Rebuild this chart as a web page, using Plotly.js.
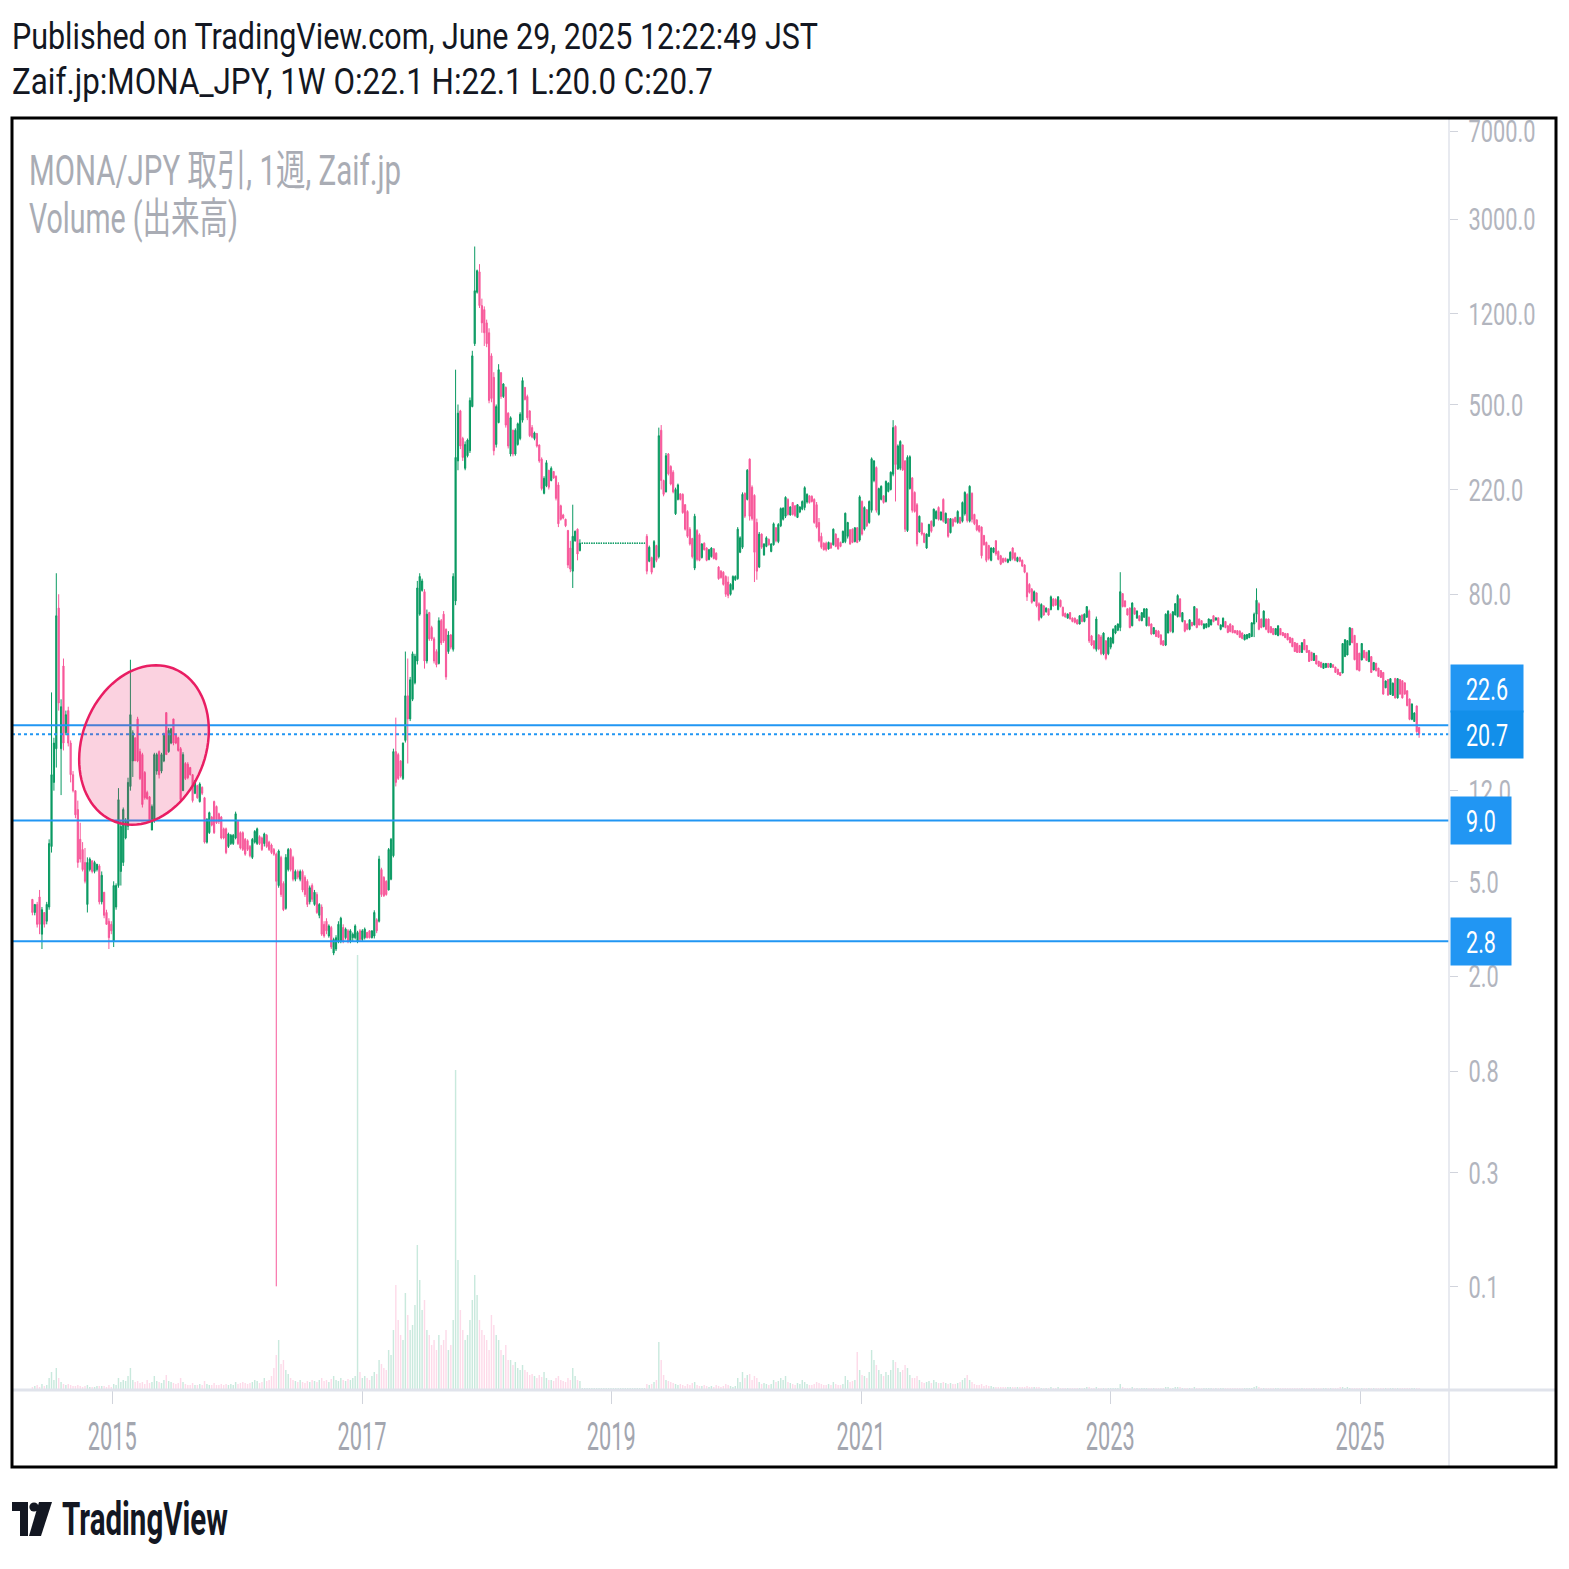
<!DOCTYPE html>
<html><head><meta charset="utf-8">
<script src="https://cdn.plot.ly/plotly-3.0.1.min.js"></script>
<style>
html,body{margin:0;padding:0;background:#fff;width:1569px;height:1569px;overflow:hidden;}
#chart{position:absolute;left:0;top:0;width:1569px;height:1569px;}
.sq{position:absolute;white-space:nowrap;transform-origin:0 0;line-height:1;font-family:Roboto,"Noto Sans CJK JP","Noto Sans",sans-serif;z-index:5;}
#logo{position:absolute;left:12px;top:1502px;z-index:5;}
</style></head><body>
<div id="chart"></div>
<div class="sq" data-w="806" style="left:12px;top:18px;font-size:37.5px;color:#131722;">Published on TradingView.com, June 29, 2025 12:22:49 JST</div>
<div class="sq" data-w="701" style="left:12px;top:63px;font-size:37.5px;color:#131722;">Zaif.jp:MONA_JPY, 1W O:22.1 H:22.1 L:20.0 C:20.7</div>
<div class="sq" data-w="372" style="left:29px;top:150px;font-size:42px;color:#a9acb4;">MONA/JPY 取引, 1週, Zaif.jp</div>
<div class="sq" data-w="209" style="left:29px;top:198px;font-size:42px;color:#a9acb4;">Volume (出来高)</div>
<svg id="logo" width="40" height="34" viewBox="0 0 40 34"><path d="M0 0H16V34H8V9H0Z" fill="#131722"/><circle cx="22" cy="5" r="4.6" fill="#131722"/><path d="M27 0H40L29 34H17Z" fill="#131722"/></svg>
<div class="sq" data-w="166" style="left:62px;top:1496px;font-size:46px;font-weight:700;color:#131722;">TradingView</div>
<script>
// ---- weekly OHLC (JPY), first week 2014-05-12, last week 2025-06-23 ----
const open = [
4.2,3.7,4.0,4.3,3.0,3.7,3.4,3.9,7.0,13,
18,70,18,40,21,26,19,14,12,10,
7.5,6.8,6,4.0,5.6,6.1,5.5,5.6,5.8,4.1,
4.5,3.7,3.4,3.3,2.8,3.9,4.8,5.5,6,7.6,
8.5,12.5,16,20,24,17.5,17,14.3,11.8,11.3,
8.2,9,14.5,17.5,14.5,16,25.5,17.5,19,24,
20.5,20,18,12,15.6,15.5,15,14,11.7,12.6,
10.8,12.4,11.2,7.3,8,9.3,10.8,10.3,9.6,9.3,
8.3,8.3,7.0,7.2,7.2,7.6,8.9,8.0,8.0,7.5,
7.4,7.0,6.3,7.3,7.2,7.7,7.6,7.2,7.8,7.3,
7.1,6.8,6.5,4.8,6.3,4.9,3.85,5.6,6.8,6.3,
5.1,5.5,5.1,5.5,5.2,5.0,4.1,4.8,4.0,4.4,
3.6,3.9,3.3,3.4,2.95,3.2,2.5,2.6,2.8,2.8,
3.2,2.9,3.1,2.8,2.9,2.9,2.8,3.1,2.85,2.9,
3.05,3.1,2.9,2.95,3.45,3.4,5.6,5.2,5.0,4.6,
5.1,6.4,17.5,17,16,13.5,19.5,30,24,29,
34,42,66,83,82,42,67,58,52,46,
41,62,66,57,46,54,47,75,290,470,
360,270,305,320,490,900,1480,1800,1300,1250,
1100,1000,800,650,340,420,680,540,590,460,
310,390,310,340,360,430,590,540,470,400,
360,378,338,295,212,228,265,240,262,250,
230,188,172,165,148,125,100,134,150,122,
131,131,131,131,131,131,131,131,131,131,
131,131,131,131,131,131,131,131,131,131,
131,131,131,131,131,131,131,
140,110,114,
104,128,115,390,240,215,310,275,260,174,
200,211,210,190,178,150,137,103,148,142,
114,131,125,112,115,124,119,104,100,99,
95,90,80,84,92,93,120,126,212,200,
295,225,208,160,104,143,117,127,136,121,
129,152,133,155,165,170,200,172,194,188,
168,177,182,185,195,207,206,200,190,160,
140,131,131,124,131,129,143,137,132,132,
133,140,149,150,133,152,135,196,150,181,
160,180,240,272,173,200,207,196,216,220,
255,405,268,270,338,290,148,222,246,214,
190,146,159,144,125,140,162,155,166,185,
164,200,159,166,145,165,168,160,168,162,
174,210,162,212,173,164,155,153,141,132,
128,111,120,134,121,116,113,113,109,111,
125,119,110,114,111,106,98,88,84,75,
81,73,64,71.5,67.5,69.5,69,76.5,76,69,
75.5,70.5,66.5,63.5,67,63.5,63.5,62.5,60,65.5,
61.5,64,68,53.5,51,47,54,53,45,51,
45,48,50,55,56.5,58,80.5,75,69.5,70,
59,70,63.5,65,62,64,59,64,60,54.5,
56.5,56,54,51,49,55,66,55.5,65.5,64.5,
76.5,61.5,62,60,57,61,59.5,69.5,63,62,
57.5,58,58.5,59.5,65,62.3,63.7,57,58.5,61.5,
59,60,59,56.4,56.3,56,55,51.5,52,52.6,
53.2,60,66,73,63,58.5,63,63,58.5,57.5,
54.2,53.6,57.5,55.3,54.8,54.7,52.8,52.3,50.2,49.8,
48.8,45.6,51.7,48.8,46.5,45.7,42.2,44.3,41.9,41.5,
39.1,39.4,41,39.5,40.5,39.6,38.8,37.6,37.4,43.8,
44.5,49,57.5,53.8,49.8,45.3,42.4,46.5,45.7,41.7,
43.8,38.5,41.1,39.2,38.3,37.6,32.4,35.1,30.4,30.1,
35.5,29.4,35.1,34.7,34,31.5,29.1,23.9,23.4,27.2,22.1];
const high = [
4.2,4.0,4.1,4.6,3.9,3.7,4.1,7.5,31,20,
98,80,29,43,26,27,19.5,14.5,12,10.9,
8.8,7.3,6.9,6.3,6.3,6.1,6.1,5.9,5.9,5.5,
4.5,3.8,3.5,3.4,5.0,4.9,12.3,9,10.2,9.2,
13.6,42.5,21.5,20,24.5,18,17.3,14.5,12,11.4,
10.5,17.3,17.3,17.7,17.3,21,25.6,22,22,24,
20.8,20.2,18.3,17.4,15.8,15.8,15.1,14.1,13.3,12.7,
13,12.5,11.3,9.2,9.8,9.4,10.9,10.4,9.7,9.4,
8.4,8.4,8.0,7.9,7.9,9.8,9.0,8.1,8.1,7.6,
7.5,7.1,7.6,8.2,8.4,7.8,7.7,8.0,7.9,7.4,
7.2,6.9,6.6,6.8,6.4,5.0,6.5,6.9,6.9,6.4,
5.6,5.6,5.6,5.6,5.3,5.1,4.8,4.9,4.6,4.5,
4.05,4.0,3.4,3.5,3.3,3.25,2.9,2.97,3.4,3.55,
3.3,3.2,3.15,3.15,3.05,3.3,3.1,3.15,3.15,3.2,
3.07,3.11,3.11,3.78,3.5,6.4,5.7,5.25,5.05,6.9,
7.6,18,24.3,17.3,16.1,19.1,46,43,36,46,
45,91,98,93,84,69,67.5,59,53,47,
64,63,68,57.5,56,54.5,98,700,500,475,
366,350,360,535,840,2300,1840,1940,1390,1290,
1135,1044,820,683,500,738,683,614,595,464,
446,392,397,420,464,650,590,550,473,410,
385,380,340,300,250,292,266,275,263,252,
236,190,174,166,149,134,190,148,151,136,
131,131,131,131,131,131,131,131,131,131,
131,131,131,131,131,131,131,131,131,131,
131,131,131,131,131,131,131,
143,128,115,
135,129,400,410,242,313,313,278,265,224,
233,212,212,191,180,153,138,174,150,144,
131,132,126,124,126,125,120,105,101,100,
96,95,89,96,96,153,140,214,214,268,
297,229,210,166,146,144,131,140,137,131,
160,153,159,185,185,206,202,187,195,189,
191,187,198,227,212,208,208,202,195,167,
145,132,133,133,132,151,144,138,133,148,
176,161,150,151,153,153,208,198,187,182,
198,300,292,275,224,229,208,240,236,262,
430,409,340,354,340,292,306,306,248,216,
193,171,160,145,144,158,163,183,180,187,
178,202,176,167,167,167,169,180,169,196,
216,212,229,214,174,165,156,154,142,133,
129,126,126,135,122,117,114,114,113,121,
126,120,115,115,112,107,99,89,85,83,
81.5,74,73.3,72,70.5,69.8,79,77,77,78.5,
76,71,67,66.5,67.2,64,63.9,62.7,65.2,65.8,
66.5,71.2,69,54,51.3,64.5,54.4,54,55.4,51.3,
53,53,57.6,59.2,60.4,99,80.7,75.5,69.8,70.5,
74,70.5,68.5,65.2,67.2,69.8,69.8,64.5,60.4,58.1,
56.6,56.5,54.4,51.3,66.5,68.5,66.5,68,73.3,80,
77,67.2,62.2,60.4,62.7,61.2,71.2,69.8,63.3,62.2,
60.4,60.4,63.3,62.7,65.2,63.9,63.9,59.8,63.9,61.6,
59.2,60.4,59.2,56.5,56.5,56.5,55.4,54.4,54.4,54.9,
61,67,84.7,74,63.3,68.5,63.3,63.3,58.7,57.6,
57.6,59.2,57.6,55.4,54.9,54.9,52.9,52.4,50.3,49.9,
48.9,50.3,51.8,48.9,46.6,45.8,45.4,44.4,42,41.6,
41.2,41.2,41.2,41.2,40.6,39.7,38.9,37.7,49.9,51.8,
51.3,58.1,57.6,53.9,49.9,45.4,49.9,46.6,45.8,46.6,
43.9,41.6,41.2,39.3,38.4,37.7,34.8,35.2,35.6,34.1,
35.6,35.6,35.2,34.8,34.1,31.6,29.2,27.9,25.6,27.3,22.1];
const low = [
3.6,3.6,3.2,3.0,2.6,3.2,3.3,3.8,6.6,12,
15,26,11.5,17.7,20.5,18.4,13,11.8,9.2,5.7,
6.0,5.5,4.9,3.7,5.5,5.4,5.4,5.5,4.0,4.0,
3.5,3.3,2.6,3.0,2.65,3.8,4.7,4.8,5.8,7.5,
8.2,12,13.7,16,15.8,13.3,10.2,11,11,8.8,
8.2,8.8,14,13.5,14.2,15.8,17,17.3,18.8,18.6,
18.8,17.5,10.9,12,13.3,13.4,13.9,10.7,11.6,11.1,
10.7,11.5,7.2,7.2,7.9,8.5,7.9,8.7,8.7,7.5,
7.5,6.5,6.9,7.1,7.1,7.5,7.1,6.8,6.7,6.4,
6.7,6.3,6.2,7.2,7.1,7.1,6.7,7.0,6.9,6.7,
6.5,6.4,0.1,4.7,4.3,3.75,3.8,5.5,5.5,5.0,
5.0,5.1,5.0,4.5,4.3,3.9,4.0,4.1,3.95,3.65,
3.5,2.95,2.9,3.0,2.9,2.6,2.45,2.55,2.75,2.75,
2.75,2.85,2.75,2.75,2.8,2.85,2.75,2.8,2.8,2.85,
2.88,2.88,2.88,2.88,3.03,3.36,4.3,4.3,4.35,4.58,
5.05,6.3,12.5,13.3,13.6,13.3,19.1,15.6,23.5,28.5,
33.5,40.6,65,82,39,41,51,51,41,39.5,
40.6,49,50,35,45,47,46,72,265,325,
290,265,300,313,487,880,1460,1270,1000,880,
870,506,511,306,330,417,528,533,400,327,
303,303,305,336,354,420,520,430,365,361,
354,330,285,218,210,225,220,238,244,198,
153,163,165,153,103,99,85,133,111,121,
131,131,131,131,131,131,131,131,131,131,
131,131,131,131,131,131,131,131,131,131,
131,131,131,131,131,131,131,
97,109,97,
103,109,113,220,206,214,252,229,212,172,
198,198,174,148,138,128,113,101,110,110,
113,122,110,111,114,112,111,92,93,87,
78,77,79,83,91,92,119,124,167,198,
163,163,90,92,103,124,116,126,128,120,
128,132,131,153,163,167,171,171,171,169,
167,175,180,180,192,192,194,158,151,132,
124,122,121,123,124,128,126,123,126,131,
131,137,129,131,132,131,133,141,148,153,
158,176,236,176,171,198,192,194,214,218,
250,196,266,265,263,146,146,220,176,176,
127,145,141,131,124,139,145,153,165,163,
163,160,158,138,144,153,160,158,158,160,
171,160,160,160,156,147,145,113,128,109,
111,110,119,116,111,106,108,109,108,110,
111,110,109,109,104,98,75,80.5,73,74.5,
70.5,61.6,63.3,65,67,65,68.5,71,71.5,68.5,
70.5,64.5,63.9,63.3,62.7,61,60.4,59.8,59.8,61,
61,63.9,50,48.5,47,46,46.6,44.4,44.4,42.3,
44.4,47,49.4,54.4,56,56,70.5,70.5,65.2,57.6,
58.7,65.8,63.3,61.6,61.6,63.9,58.7,58.7,53.9,54.4,
52.9,52.4,48.9,48.5,48.5,54.9,55.4,54.9,65.2,63.9,
63.9,61,55.4,56.5,56.5,58.7,59.2,57.6,59.2,59.2,
57,57.6,58.1,59.2,61,62.2,59.2,56.5,58.1,57.6,
54.9,55.4,54.9,54.9,53.9,52.4,51.8,51.3,51.8,52.4,
52.9,52.9,61,56.5,57.6,58.1,56.5,54.9,54.9,53.9,
53.9,53.4,53.9,53.4,52.4,51.3,49.9,48,45.8,45.4,
45.4,45.4,46.6,45.4,41.6,42,42,40.6,39.7,39.3,
38.9,39.3,39.3,39.3,39.3,37.4,36.7,36.3,37.3,43.7,
44.4,48.9,49.9,42.3,38.4,38,42.3,43.1,42,41.6,
37.4,38.4,38,36,35.6,30.3,32.3,30,30.3,30,
29.2,29.2,30.3,29.2,30.3,27.1,23.7,23.7,23.3,21,20.0];
const close = [
3.7,4.0,3.3,3.3,3.8,3.3,4.0,7.2,14,19,
65,28,27,19,25,19,14,12,9.5,6,
6.2,5.6,5,6.0,6.2,5.5,6.0,5.9,4.1,5.3,
3.6,3.3,2.9,3.1,4.8,4.8,11,8.5,10,9,
13,25,21,16,16,13.5,10.5,11.2,11.1,8.9,
10.3,17,17,14,17,20.5,17,21.5,21.8,19,
19,17.7,11,17,13.5,13.6,14,10.9,13.2,11.2,
12.8,11.7,7.3,9.1,9.7,8.6,8.0,8.8,8.9,7.6,
7.6,6.6,7.9,7.8,7.8,9.6,7.2,6.9,6.8,6.5,
6.8,6.4,7.5,8.1,8.3,7.2,6.8,7.9,7.0,6.8,
6.6,6.5,5.0,6.7,4.4,3.8,6.3,6.8,5.6,5.1,
5.5,5.2,5.5,4.6,4.4,4.0,4.7,4.2,4.5,3.7,
4.0,3.0,2.95,3.1,3.25,2.65,2.85,2.9,3.3,3.5,
2.8,3.15,2.8,3.1,3.0,3.25,3.05,2.85,3.1,3.15,
2.9,2.9,3.1,3.7,3.1,6.2,4.4,4.35,4.4,6.8,
7.5,17.5,13,13.5,13.8,19,30,24,35,45,
44,85,95,91,42,66,52,52,42,40.5,
62,50,51,36,54,48,95,300,460,335,
300,340,355,520,800,1500,1820,1300,1100,1000,
900,520,530,320,490,700,540,610,410,335,
440,310,390,415,455,630,525,440,370,365,
380,335,290,222,245,285,225,270,246,202,
158,165,167,155,106,102,140,147,118,131,
131,131,131,131,131,131,131,131,131,131,
131,131,131,131,131,131,131,131,131,131,
131,131,131,131,131,131,131,
100,126,99,
133,111,370,240,210,305,256,232,215,220,
230,200,176,150,140,130,115,170,112,111,
130,123,111,123,125,113,112,93,94,88,
80,79,88,95,95,150,138,210,170,265,
170,166,120,100,143,126,130,138,129,130,
158,134,157,183,184,204,173,186,173,171,
190,186,196,224,210,194,196,160,153,134,
126,123,123,132,125,150,127,124,127,147,
175,160,130,132,152,132,205,143,185,155,
196,296,290,180,222,227,194,238,234,260,
400,280,335,350,266,150,300,302,180,178,
130,170,143,132,143,157,147,182,178,165,
177,162,175,140,166,155,161,178,159,194,
214,163,227,165,158,149,147,116,129,111,
113,125,125,118,112,107,109,110,112,120,
113,111,114,110,105,99,78,81.5,74,82,
71.5,62.5,72.5,65.5,70,65.5,78,71.5,72,78,
71,65,64.2,66,63,61.5,61,60,65,61.5,
66,71,51,49,47.5,63,47.2,45,55,43,
52.5,52.5,57,59,60,82,71,71,65.5,58,
73.5,66,68,62,67,69.5,69.5,59,54.5,58,
53.2,52.8,49.3,48.8,66,68,56,67.5,73,79,
64.5,67,56,57,62.5,59,71,58,59.5,59.5,
60,60.2,63,62.5,61.5,63.7,59.5,59.5,63.5,58,
55.3,55.8,55.2,55,54.2,52.8,52.2,54,54.2,54.7,
60.7,66,75.5,57,58,68,57,55.3,55.2,54.2,
57.4,59,54.1,53.6,52.6,51.5,50.1,48.2,46,45.6,
45.6,50.1,46.8,45.6,41.8,42.2,45.2,40.8,39.9,39.5,
41,41,39.5,41,39.5,37.6,36.9,36.5,49.7,51.6,
51.1,57.9,50.1,42.5,38.6,38.2,49.7,43.3,42.2,46.4,
37.6,41.4,38.2,36.2,35.8,30.5,34.6,30.2,35.4,33.9,
29.4,35.4,30.5,29.4,30.5,27.3,23.9,27.7,25.4,21.2,20.7];
// weekly volume (relative units)
const volume = [
3,4,5,3,6,4,5,12,18,10, 22,12,8,6,5,6,5,4,4,5, 4,3,4,5,3,3,3,4,4,4, 4,3,5,3,6,5,12,8,10,9,
14,22,10,8,9,7,8,6,10,7, 8,14,9,8,7,10,15,9,8,7, 6,7,12,8,6,5,5,7,5,5, 6,5,9,6,5,5,7,5,5,6,
5,6,5,6,5,8,6,7,8,7, 6,7,8,10,9,7,8,12,9,10, 14,22,35,50,26,30,20,16,12,10, 9,8,10,8,7,9,8,10,9,8,
10,12,9,10,8,11,14,10,9,12, 10,9,11,10,12,14,435,18,12,14, 12,10,14,18,16,30,26,22,20,40,
35,60,105,70,55,50,97,75,60,65, 85,145,110,80,90,60,55,45,50,40, 55,45,50,60,40,45,70,320,130,80,
60,50,55,70,90,115,95,70,60,55, 50,40,75,65,55,50,40,35,45,30, 30,25,28,22,20,25,20,18,15,16,
14,12,15,13,18,12,10,10,9,12, 14,10,9,8,12,10,22,14,10,9,
2,2,2,2,2,2,2,2,2,2, 2,2,2,2,2,2,2,2,2,2, 2,2,2,2,2,2,2,
6,5,6, 8,10,48,30,15,10,9,8,7,6, 5,6,5,4,6,5,7,8,5,4, 4,5,4,3,4,3,5,4,3,4,
6,5,4,3,4,12,8,18,12,15, 16,10,14,12,8,6,7,6,5,6, 10,8,9,12,10,14,8,7,6,5,
7,6,10,8,6,5,5,6,8,7, 6,5,5,6,5,8,6,5,5,6, 14,10,8,9,10,38,20,15,14,12,
18,40,30,25,20,16,14,18,15,20, 30,28,22,18,20,25,22,15,12,12, 14,10,8,7,8,9,7,10,8,7,
7,8,7,6,7,6,6,7,8,10, 12,15,10,8,6,5,5,6,4,5, 4,4,3,3,3,3,3,3,3,3, 3,3,3,3,3,3,4,3,3,3,
3,3,2,2,2,2,3,2,2,3, 2,2,2,2,2,2,2,2,2,2, 2,3,3,2,2,3,2,2,2,2, 2,2,2,2,2,6,3,2,2,2,
3,2,2,2,2,2,2,2,2,2, 2,2,2,2,3,3,2,2,3,3, 3,2,2,2,2,2,3,2,2,2, 2,2,2,2,2,2,2,2,2,2,
2,2,2,2,2,2,2,2,2,2, 2,3,4,3,2,2,2,2,2,2, 2,2,2,2,2,2,2,2,2,2, 2,2,2,2,2,2,2,2,2,2,
2,2,2,2,2,2,2,3,3,2, 3,2,2,2,2,2,2,2,2,2, 2,2,2,2,2,2,2,2,2,2, 2,2,2,2,2,2,2,2,2,2,2];
// horizontal levels drawn on the chart
const levelPrices = [22.6, 9.0, 2.8];
const levelLabels = ['22.6', '9.0', '2.8'];
const lastPrice = 20.7;
const lastLabel = '20.7';
// axis ticks
const yTickVals = [7000, 3000, 1200, 500, 220, 80, 12, 5, 2, 0.8, 0.3, 0.1];
const yTickText = ['7000.0','3000.0','1200.0','500.0','220.0','80.0','12.0','5.0','2.0','0.8','0.3','0.1'];
const xTickVals = ['2015-01-01','2017-01-01','2019-01-01','2021-01-01','2023-01-01','2025-01-01'];
const xTickText = ['2015','2017','2019','2021','2023','2025'];

// ---------------- drawing ----------------
const UP = '#0a9a62', DOWN = '#f7589a', BLUE = '#2196f3';
const DAY = 86400000, LAST_WEEK = Date.UTC(2025, 5, 23);
const N = close.length;
const dates = close.map((_, i) => new Date(LAST_WEEK - (N - 1 - i) * 7 * DAY).toISOString().slice(0, 10));
const vdates = volume.map((_, i) => new Date(LAST_WEEK - (volume.length - 1 - i) * 7 * DAY).toISOString().slice(0, 10));
const volColors = volume.map((_, i) => {
  const k = i - (volume.length - N);
  const up = k >= 0 && k < N ? close[k] >= open[k] : true;
  return up ? 'rgba(10,154,98,0.22)' : 'rgba(247,88,154,0.22)';
});
const X0 = '2014-03-13 07:00', X1 = '2025-09-18 12:00';

// plot area in page pixels
const PL = 12, PR = 1449, PT = 118, PB = 1390;
const PW = PR - PL, PH = PB - PT;
const px = x => (x - PL) / PW, py = y => (PB - y) / PH;

function ellipsePath(cx, cy, a, b, deg) {
  const f = deg * Math.PI / 180, pts = [];
  for (let k = 0; k <= 90; k++) {
    const t = k / 90 * 2 * Math.PI;
    const x = cx + a * Math.cos(t) * Math.cos(f) - b * Math.sin(t) * Math.sin(f);
    const y = cy - (a * Math.cos(t) * Math.sin(f) + b * Math.sin(t) * Math.cos(f));
    pts.push(px(x).toFixed(5) + ',' + py(y).toFixed(5));
  }
  return 'M' + pts.join('L') + 'Z';
}

const traces = [
  { type: 'bar', x: vdates, y: volume, yaxis: 'y2', marker: { color: volColors, line: { width: 0 } }, hoverinfo: 'skip' },
  { type: 'candlestick', x: dates, open: open, high: high, low: low, close: close,
    increasing: { line: { color: UP, width: 1 }, fillcolor: UP },
    decreasing: { line: { color: DOWN, width: 1 }, fillcolor: DOWN },
    whiskerwidth: 0, hoverinfo: 'skip' }
];
levelPrices.forEach(v => traces.push({ type: 'scatter', mode: 'lines', x: [X0, X1], y: [v, v],
  line: { color: BLUE, width: 2 }, hoverinfo: 'skip' }));
traces.push({ type: 'scatter', mode: 'lines', x: [X0, X1], y: [lastPrice, lastPrice],
  line: { color: BLUE, width: 2, dash: 'dot' }, hoverinfo: 'skip' });

const boxes = [
  { v: 22.6, t: levelLabels[0], shift: 37, w: 72, c: '#2196f3' },
  { v: lastPrice, t: lastLabel, shift: 0, w: 72, c: '#128fea' },
  { v: 9.0, t: levelLabels[1], shift: 0, w: 60, c: '#2196f3' },
  { v: 2.8, t: levelLabels[2], shift: 0, w: 60, c: '#2196f3' }
];
const annotations = boxes.map(b => ({
  xref: 'paper', yref: 'y', x: px(1450), y: Math.log10(b.v), xanchor: 'left', yanchor: 'middle',
  yshift: b.shift, text: b.t, showarrow: false, bgcolor: b.c, width: b.w, height: 47, borderpad: 0,
  align: 'center', font: { family: 'Roboto', size: 32, color: '#ffffff' }
}));

const layout = {
  width: 1569, height: 1569,
  margin: { l: PL, r: 1569 - PR, t: PT, b: 1569 - PB, pad: 0 },
  paper_bgcolor: 'rgba(0,0,0,0)', plot_bgcolor: '#ffffff',
  showlegend: false, hovermode: false, bargap: 0.4,
  xaxis: { type: 'date', range: [X0, X1], showgrid: false, zeroline: false, showline: false,
    ticks: 'outside', ticklen: 13, tickwidth: 1, tickcolor: '#d1d4dc',
    tickmode: 'array', tickvals: xTickVals, ticktext: xTickText,
    tickfont: { family: 'Roboto', size: 38, color: '#a3a6af' }, ticklabelstandoff: 0,
    rangeslider: { visible: false }, fixedrange: true },
  yaxis: { type: 'log', range: [-1.4348, 3.9008], side: 'right', showgrid: false, zeroline: false, showline: false,
    ticks: 'outside', ticklen: 8, tickwidth: 1, tickcolor: '#d1d4dc',
    tickmode: 'array', tickvals: yTickVals, ticktext: yTickText,
    tickfont: { family: 'Roboto', size: 32, color: '#b2b5be' }, ticklabelstandoff: 4, fixedrange: true },
  yaxis2: { overlaying: 'y', range: [0, PH], visible: false, fixedrange: true },
  shapes: [
    { type: 'line', xref: 'paper', yref: 'paper', x0: 0, x1: px(1556), y0: 0, y1: 0, line: { color: '#e0e3eb', width: 3 }, layer: 'above' },
    { type: 'line', xref: 'paper', yref: 'paper', x0: 1, x1: 1, y0: py(1467), y1: 1, line: { color: '#e0e3eb', width: 1.5 }, layer: 'above' },
    { type: 'path', xref: 'paper', yref: 'paper', path: ellipsePath(144, 745, 82, 62, 69.3),
      fillcolor: 'rgba(233,30,99,0.2)', line: { color: '#e91e63', width: 2.5 }, layer: 'above' },
    { type: 'rect', xref: 'paper', yref: 'paper', x0: 0, x1: px(1556), y0: py(1467), y1: 1,
      line: { color: '#000000', width: 3 }, fillcolor: 'rgba(0,0,0,0)', layer: 'above' }
  ],
  annotations: annotations
};

function squeeze(gd, sel, refText, target) {
  const nodes = Array.from(gd.querySelectorAll(sel));
  let f = null;
  nodes.forEach(n => { if (n.textContent.trim() === refText) f = target / n.getComputedTextLength(); });
  if (!f) return;
  nodes.forEach(n => {
    const L = n.getComputedTextLength();
    if (L > 0) { n.setAttribute('textLength', (L * f).toFixed(2)); n.setAttribute('lengthAdjust', 'spacingAndGlyphs'); }
  });
}

Plotly.newPlot('chart', traces, layout, { staticPlot: true, displayModeBar: false }).then(gd => {
  squeeze(gd, '.xtick text', '2015', 49);
  squeeze(gd, '.ytick text', '7000.0', 67);
  squeeze(gd, 'text.annotation-text', '22.6', 42);
});
document.querySelectorAll('.sq').forEach(el => {
  const w = el.getBoundingClientRect().width;
  el.style.transform = 'scaleX(' + (+el.dataset.w / w).toFixed(4) + ')';
});
</script>
</body></html>
